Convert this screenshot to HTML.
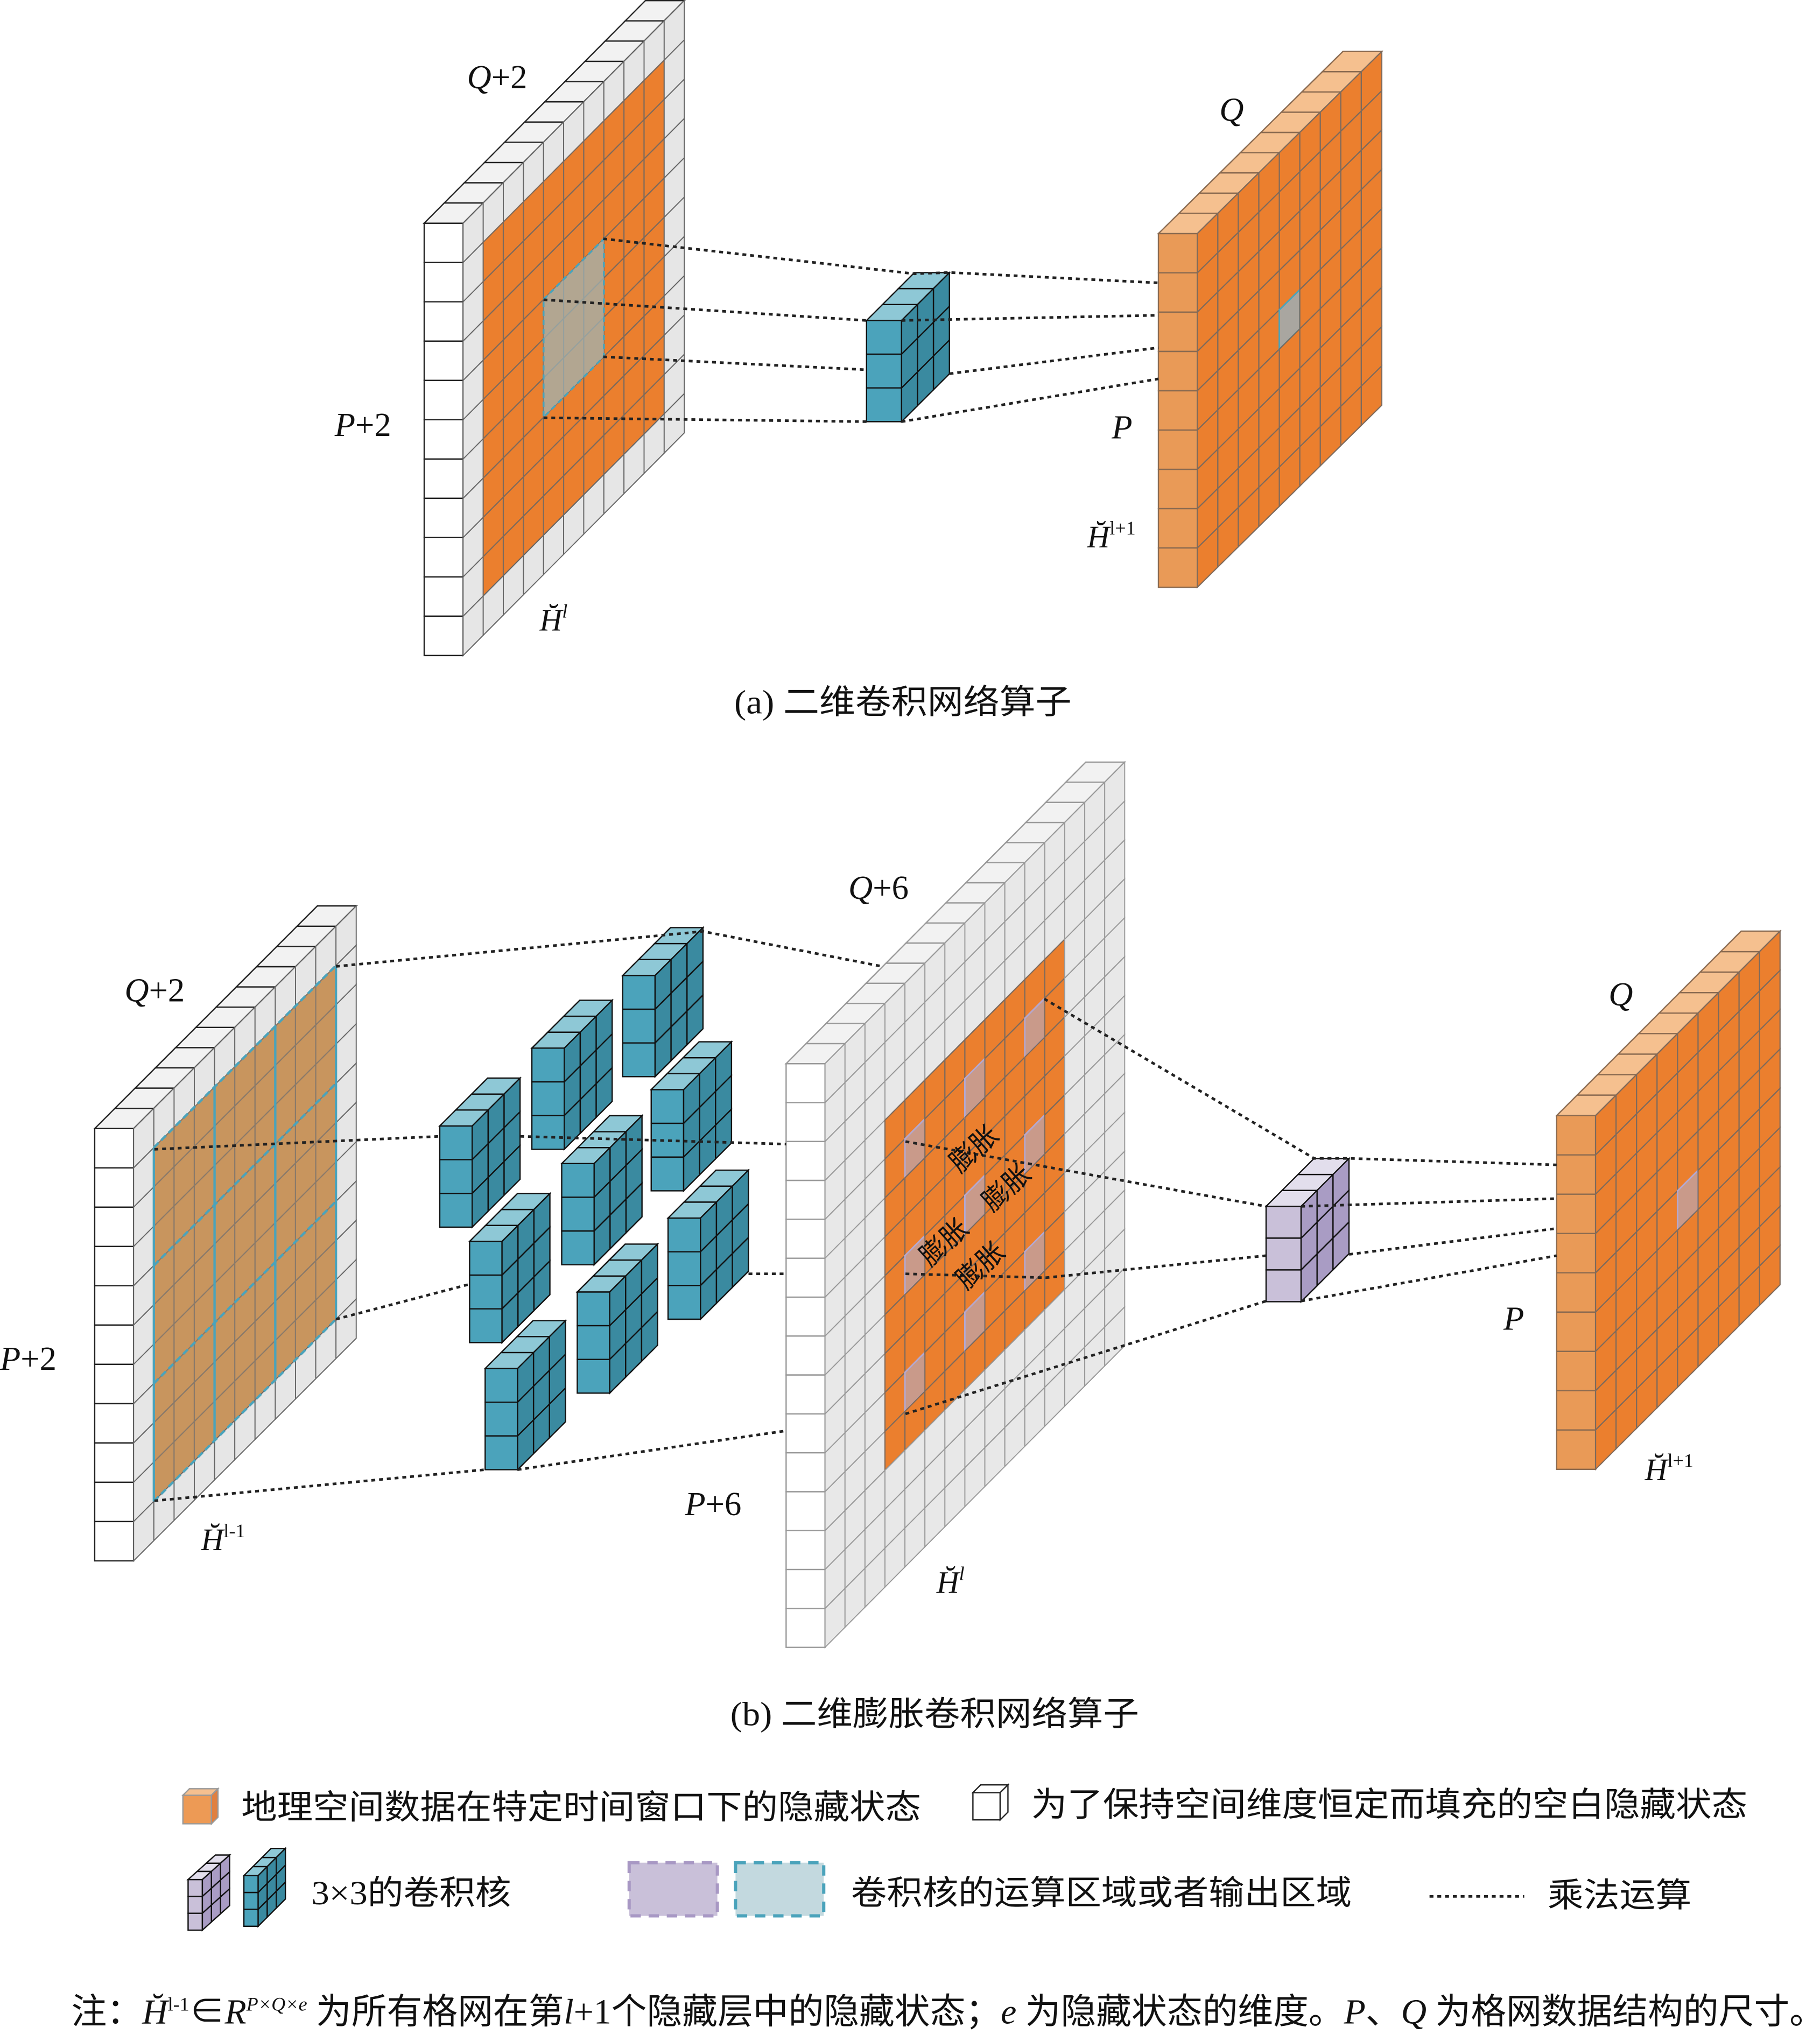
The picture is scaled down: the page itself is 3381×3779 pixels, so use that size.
<!DOCTYPE html>
<html><head><meta charset="utf-8">
<style>
html,body{margin:0;padding:0;background:#fff;}
svg{display:block;}
.t{font-family:"Liberation Serif","Noto Serif CJK SC",serif;fill:#111;}
.c{font-family:"Liberation Serif","Noto Sans CJK SC",sans-serif;fill:#111;}
.i{font-family:"Liberation Serif",serif;font-style:italic;fill:#111;}
</style></head>
<body>
<svg id="s" xmlns="http://www.w3.org/2000/svg" width="3381" height="3779" viewBox="0 0 1403 1568">
<g id="shapes"></g>
<g id="lines" fill="none" stroke="#222" stroke-width="2" stroke-dasharray="3,3">
<polyline points="465,184 705,211 732,210 893,218"/>
<polyline points="419,231 668,247"/>
<polyline points="695,247 893,243"/>
<polyline points="465,275 668,285"/>
<polyline points="732,288 893,268"/>
<polyline points="419,322 668,325"/>
<polyline points="695,325 893,292"/>
<polyline points="259,745 542,718 680,745"/>
<polyline points="119,886 339,876"/>
<polyline points="401,876 606,882"/>
<polyline points="259,1017 362,990"/>
<polyline points="577,982 606,982"/>
<polyline points="119,1157 374,1133"/>
<polyline points="399,1133 606,1103"/>
<polyline points="805,770 1013,893 1040,893 1200,898"/>
<polyline points="698,880 976,930"/>
<polyline points="1003,930 1200,924"/>
<polyline points="698,982 806,985 976,968"/>
<polyline points="1040,967 1200,947"/>
<polyline points="698,1090 976,1003"/>
<polyline points="1003,1003 1200,968"/>
<line x1="1102" y1="1462" x2="1175" y2="1462"/>
</g>
<g>
<text class="i" x="360" y="68" font-size="26">Q<tspan font-style="normal">+2</tspan></text>
<text class="i" x="258" y="336" font-size="26">P<tspan font-style="normal">+2</tspan></text>
<text class="i" x="940" y="93" font-size="26">Q</text>
<text class="i" x="857" y="338" font-size="26">P</text>
<text class="i" x="838" y="422" font-size="24">H̆<tspan font-size="15" dy="-10" font-style="normal">l+1</tspan></text>
<text class="i" x="416" y="486" font-size="24">H̆<tspan font-size="15" dy="-10">l</tspan></text>
<text class="c" x="566" y="550" font-size="26" textLength="260" lengthAdjust="spacingAndGlyphs">(a) 二维卷积网络算子</text>

<text class="i" x="96" y="772" font-size="26">Q<tspan font-style="normal">+2</tspan></text>
<text class="i" x="0" y="1056" font-size="26">P<tspan font-style="normal">+2</tspan></text>
<text class="i" x="654" y="693" font-size="26">Q<tspan font-style="normal">+6</tspan></text>
<text class="i" x="528" y="1168" font-size="26">P<tspan font-style="normal">+6</tspan></text>
<text class="i" x="1240" y="775" font-size="26">Q</text>
<text class="i" x="1159" y="1025" font-size="26">P</text>
<text class="i" x="155" y="1195" font-size="24">H̆<tspan font-size="15" dy="-10" font-style="normal">l-1</tspan></text>
<text class="i" x="722" y="1228" font-size="24">H̆<tspan font-size="15" dy="-10">l</tspan></text>
<text class="i" x="1268" y="1141" font-size="24">H̆<tspan font-size="15" dy="-10" font-style="normal">l+1</tspan></text>
<g class="c" font-size="21">
<text transform="translate(740,905) rotate(-42)">膨胀</text>
<text transform="translate(765,935) rotate(-42)">膨胀</text>
<text transform="translate(717,977) rotate(-42)">膨胀</text>
<text transform="translate(745,995) rotate(-42)">膨胀</text>
</g>
<text class="c" x="563" y="1330" font-size="26" textLength="315" lengthAdjust="spacingAndGlyphs">(b) 二维膨胀卷积网络算子</text>

<text class="c" x="186" y="1402" font-size="26" textLength="524" lengthAdjust="spacingAndGlyphs">地理空间数据在特定时间窗口下的隐藏状态</text>
<text class="c" x="795" y="1400" font-size="26" textLength="552" lengthAdjust="spacingAndGlyphs">为了保持空间维度恒定而填充的空白隐藏状态</text>
<text class="c" x="240" y="1468" font-size="26" textLength="154" lengthAdjust="spacingAndGlyphs">3×3的卷积核</text>
<rect x="485" y="1436" width="68" height="41" fill="#c9c0d9" stroke="#a898c4" stroke-width="2.5" stroke-dasharray="8,6"/>
<rect x="567" y="1436" width="68" height="41" fill="#c3d9df" stroke="#4aa3bb" stroke-width="2.5" stroke-dasharray="8,6"/>
<text class="c" x="656" y="1468" font-size="26" textLength="386" lengthAdjust="spacingAndGlyphs">卷积核的运算区域或者输出区域</text>
<text class="c" x="1193" y="1470" font-size="26" textLength="111" lengthAdjust="spacingAndGlyphs">乘法运算</text>
<text class="c" x="55" y="1560" font-size="27.3">注：<tspan class="i" font-style="italic">H̆</tspan><tspan font-size="15" dy="-10">l-1</tspan><tspan dy="10">∈</tspan><tspan font-style="italic">R</tspan><tspan font-size="15" dy="-10" font-style="italic">P×Q×e</tspan><tspan dy="10"> 为所有格网在第</tspan><tspan font-style="italic">l</tspan>+1个隐藏层中的隐藏状态；<tspan font-style="italic">e</tspan> 为隐藏状态的维度。<tspan font-style="italic">P</tspan>、<tspan font-style="italic">Q</tspan> 为格网数据结构的尺寸。</text>
</g>
</svg>
<script>
var NS="http://www.w3.org/2000/svg",G=document.getElementById("shapes");
function poly(pts,fill,stroke,sw,extra){var p=document.createElementNS(NS,"polygon");p.setAttribute("points",pts.map(function(a){return a[0].toFixed(2)+","+a[1].toFixed(2)}).join(" "));p.setAttribute("fill",fill);p.setAttribute("stroke",stroke);p.setAttribute("stroke-width",sw);if(extra)for(var k in extra)p.setAttribute(k,extra[k]);G.appendChild(p);}
function slab(o){
 var x0=o.x,y0=o.y,fw=o.fw,R=o.rows,rh=o.rh,C=o.cols,du=o.du,dv=o.dv;
 for(var j=0;j<R;j++){poly([[x0,y0+rh*j],[x0+fw,y0+rh*j],[x0+fw,y0+rh*(j+1)],[x0,y0+rh*(j+1)]],o.front(j),o.fs||"#222",o.sw||1);}
 for(var i=0;i<C;i++){poly([[x0+du*i,y0-dv*i],[x0+fw+du*i,y0-dv*i],[x0+fw+du*(i+1),y0-dv*(i+1)],[x0+du*(i+1),y0-dv*(i+1)]],o.top(i),o.fs||"#222",o.sw||1);}
 for(var i=0;i<C;i++)for(var j=0;j<R;j++){var bx=x0+fw+du*i,by=y0-dv*i+rh*j;
  var c=o.side(i,j);poly([[bx,by],[bx+du,by-dv],[bx+du,by-dv+rh],[bx,by+rh]],c[0],c[1],c[2]||0.8);}
}
var OR="#eb7f2e";
slab({x:327,y:172,fw:30,rows:11,rh:30.3,cols:11,du:15.5,dv:15.6,front:function(){return"#fff"},top:function(){return"#f2f2f2"},
 side:function(i,j){return(i>=1&&i<=9&&j>=1&&j<=9)?[OR,"#7d6a5c",0.9]:["#e6e6e6","#666",0.8]}});
poly([[419,230.8],[465.5,184],[465.5,275],[419,321.7]],"#9fb3b3","#4aa3bb",1.5,{"fill-opacity":"0.75","stroke-dasharray":"4,3"});
function kern(x,bottom,f,s,t,rh,fw){rh=rh||26;fw=fw||25;slab({x:x,y:bottom-3*rh,fw:fw,rows:3,rh:rh,cols:3,du:12.3,dv:12.3,front:function(){return f},top:function(){return t},side:function(){return[s,"#111",1]},fs:"#111",sw:1});}
kern(668,325,"#4ba3bb","#3a8aa0","#8ec8d6",26,27);
slab({x:893,y:180,fw:30,rows:9,rh:30.3,cols:9,du:15.8,dv:15.6,front:function(){return"#e99a57"},top:function(){return"#f5c08f"},
 side:function(i,j){return(i==4&&j==4)?["#a9a6a0","#4aa3bb",1.2]:[OR,"#7d6a5c",0.9]},fs:"#8a6a50"});
slab({x:73,y:870,fw:30,rows:11,rh:30.3,cols:11,du:15.6,dv:15.6,front:function(){return"#fff"},top:function(){return"#f2f2f2"},
 side:function(i,j){return(i>=1&&i<=9&&j>=1&&j<=9)?["#c8955e","#8a7a6a",0.9]:["#e6e6e6","#666",0.8]}});
(function(){var ax=118.6,ay=884.7;
 for(var k=0;k<4;k++){var c=k*3;var x=ax+15.6*c,y=ay-15.6*c;poly([[x,y],[x,y+272.7],[x,y+272.7]],"none","#4aa3bb",1.8,{"stroke-dasharray":"5,3"});
  var yy=ay+30.3*c;poly([[ax,yy],[ax+140.4,yy-140.4],[ax+140.4,yy-140.4]],"none","#4aa3bb",1.8,{"stroke-dasharray":"5,3"});}
})();
[[480,830],[410,886],[339,946],[502,918],[433,975],[362,1035],[515,1017],[445,1074],[374,1133]].forEach(function(k){kern(k[0],k[1],"#4ba3bb","#3a8aa0","#8ec8d6");});
slab({x:606,y:820,fw:30,rows:15,rh:30,cols:15,du:15.4,dv:15.5,front:function(){return"#fff"},top:function(){return"#f2f2f2"},fs:"#999",
 side:function(i,j){if(i>=3&&i<=11&&j>=3&&j<=11){if((i==4||i==7||i==10)&&(j==4||j==7||j==10))return["#c99a8a","#b4a8d0",1.2];return[OR,"#7d6a5c",0.9];}return["#e8e8e8","#999",0.8]}});
kern(976,1003.5,"#c9c0d9","#a99cc4","#e2deec",24.5,27);
slab({x:1200,y:860,fw:30,rows:9,rh:30.3,cols:9,du:15.8,dv:15.8,front:function(){return"#e99a57"},top:function(){return"#f5c08f"},
 side:function(i,j){return(i==4&&j==4)?["#c99a8a","#b4a8d0",1.2]:[OR,"#7d6a5c",0.9]},fs:"#8a6a50"});
slab({x:141,y:1384,fw:22,rows:1,rh:22,cols:1,du:5,dv:5,front:function(){return"#ed9a55"},top:function(){return"#f5c08f"},side:function(){return["#e08040","#999",1]},fs:"#999"});
slab({x:750,y:1382,fw:21,rows:1,rh:21,cols:1,du:6,dv:6,front:function(){return"#fff"},top:function(){return"#fff"},side:function(){return["#fff","#222",1]}});
slab({x:145,y:1449,fw:11,rows:3,rh:13,cols:3,du:7,dv:6.3,front:function(){return"#c9c0d9"},top:function(){return"#e2deec"},side:function(){return["#a99cc4","#111",1]},fs:"#111"});
slab({x:188,y:1446,fw:11,rows:3,rh:13,cols:3,du:7,dv:7,front:function(){return"#4ba3bb"},top:function(){return"#8ec8d6"},side:function(){return["#3a8aa0","#111",1]},fs:"#111"});
</script>
</body></html>
